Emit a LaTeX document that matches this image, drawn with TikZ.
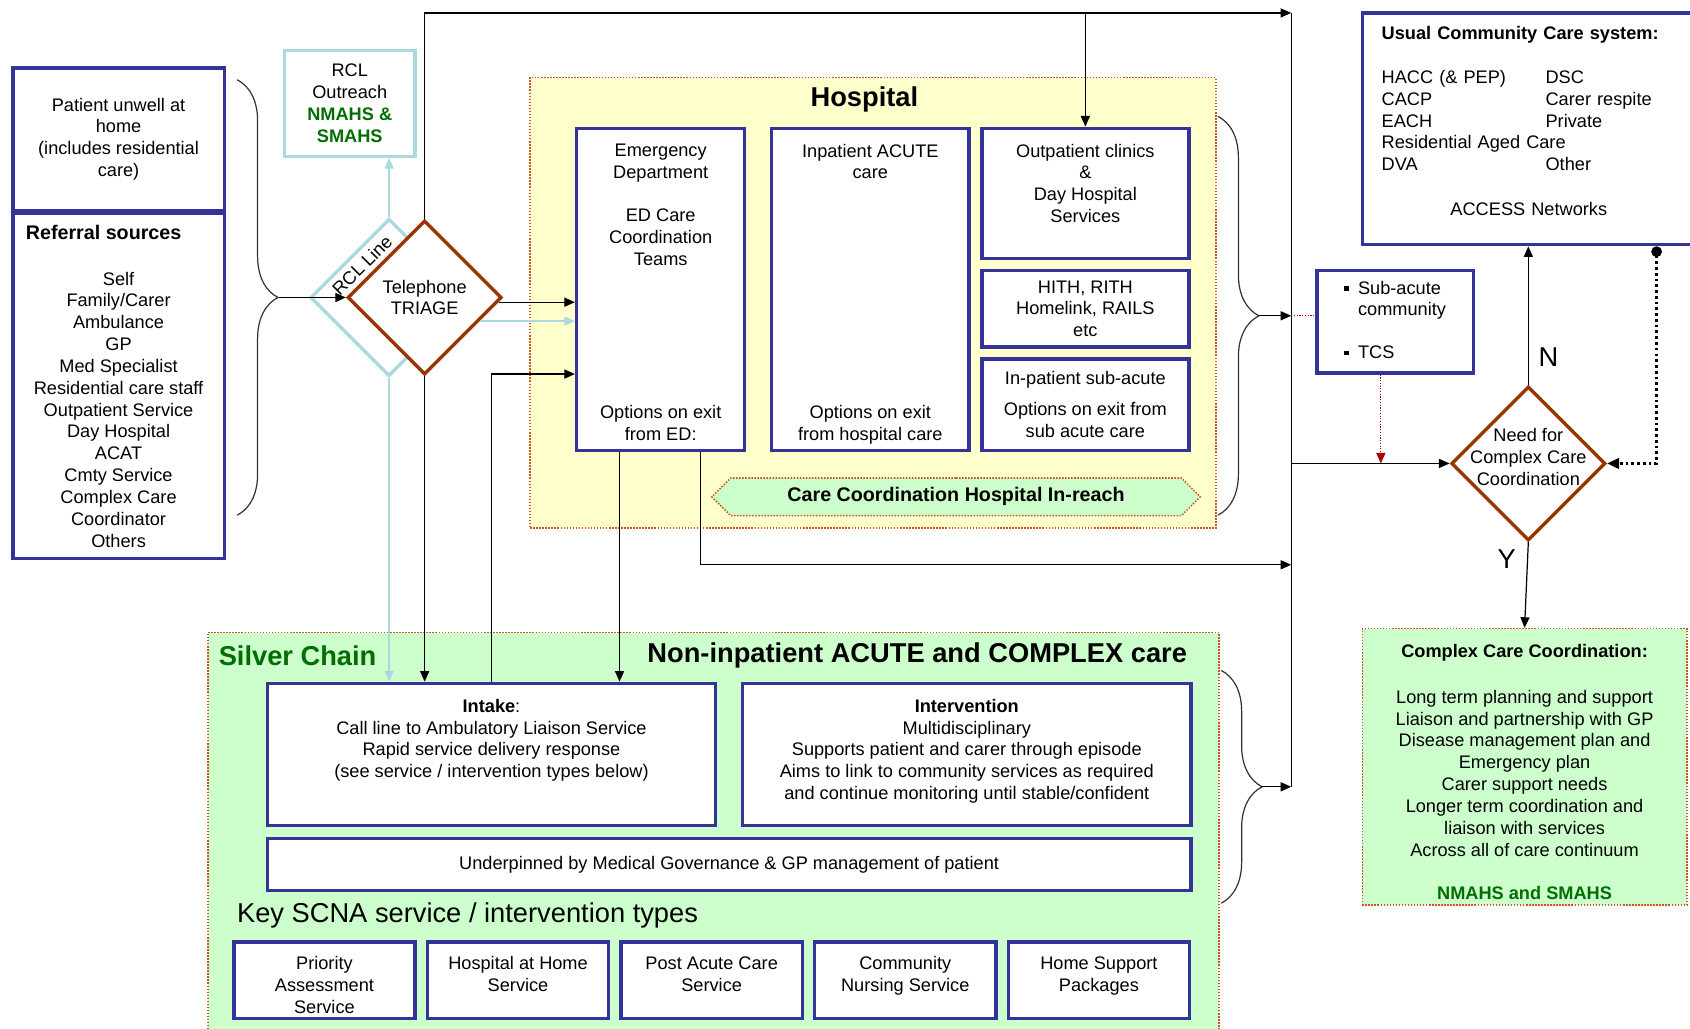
\documentclass[tikz,border=0pt]{standalone}
\usepackage{fontspec}
\setmainfont{Liberation Sans}
\usetikzlibrary{positioning,calc,arrows.meta,shapes.geometric,shapes.symbols,decorations.pathreplacing}

\definecolor{boxblue}{RGB}{51,51,153}
\definecolor{triagebrown}{RGB}{153,51,0}
\definecolor{rclblue}{RGB}{170,218,224}
\definecolor{hospyellow}{RGB}{255,255,204}
\definecolor{scgreen}{RGB}{204,255,204}
\definecolor{dotred}{RGB}{204,85,34}
\definecolor{darkred}{RGB}{170,0,0}
\definecolor{textgreen}{RGB}{0,110,0}

\newcommand{\sqbul}{\rule[2pt]{3pt}{3pt}}

\tikzstyle{bluebox} = [rectangle, draw=boxblue, line width=2.2pt, fill=white, align=center]
\tikzstyle{region} = [rectangle, draw=dotred, densely dotted, line width=1pt]
\tikzstyle{decision} = [diamond, draw=triagebrown, line width=2.2pt, fill=white, inner sep=0pt,
minimum width=3.575cm, minimum height=3.575cm, align=center]
\tikzstyle{boxtext} = [align=center, inner sep=2pt]
\tikzstyle{bigbox} = [bluebox, minimum width=10.4cm, minimum height=3.3cm]
\tikzstyle{svc} = [bluebox, minimum width=4.2cm, minimum height=1.775cm]
\tikzstyle{bighead} = [font=\fontsize{18}{21}\selectfont\bfseries]
\tikzstyle{arrow} = [thick, -{Triangle[length=7pt,width=6pt]}]
\tikzstyle{lbarrow} = [thick, rclblue, -{Triangle[length=7pt,width=6pt]}]
\tikzstyle{link} = [thick]
\tikzstyle{curly} = [thick, black!80, decorate, decoration={brace, amplitude=0.95cm}]
\tikzstyle{reddot} = [thick, darkred, densely dotted]

\begin{document}
\begin{tikzpicture}[x=0.025cm, y=-0.025cm, node distance=4.49cm, font=\fontsize{12}{14.4}\selectfont]
\useasboundingbox (0,0) rectangle (1568,954);

% regions
\node (hospital) [region, fill=hospyellow, minimum width=15.9cm, minimum height=10.45cm] at (810,281) {};
\node (silver) [region, fill=scgreen, minimum width=23.45cm, minimum height=9.375cm] at (662,774.5) {};
\node (hosptitle) [bighead] at (802,92) {Hospital};
\node (sctitle) [bighead, text=textgreen, anchor=west] at (198,608) {Silver Chain};
\node (nictitle) [bighead] at (851,608) {Non-inpatient ACUTE and COMPLEX care};

% referral side
\node (home) [bluebox, minimum width=4.9cm, minimum height=3.3cm] at (110,129) {Patient unwell at\\home\\(includes residential\\care)};
\node (refs) [bluebox, minimum width=4.9cm, minimum height=8cm, inner ysep=2pt, below=0pt of home] {\makebox[4.3cm][l]{\fontsize{13}{15}\selectfont\bfseries Referral sources}\\[16pt]
Self\\Family/Carer\\Ambulance\\GP\\Med Specialist\\Residential care staff\\Outpatient Service\\Day Hospital\\ACAT\\Cmty Service\\Complex Care\\Coordinator\\Others};
\node (rclbox) [bluebox, draw=rclblue, minimum width=3.025cm, minimum height=2.45cm] at (324.5,96) {RCL\\Outreach\\\textcolor{textgreen}{\textbf{NMAHS \&}}\\\textcolor{textgreen}{\textbf{SMAHS}}};
\node (rcl) [decision, draw=rclblue, minimum width=3.65cm, minimum height=3.65cm] at (361,276) {};
\node (rcllabel) [rotate=45] at (336,246) {RCL Line};
\node (triage) [decision] at (394,276) {Telephone\\TRIAGE};

% hospital
\node (ed) [bluebox, minimum width=3.9cm, minimum height=7.475cm] at (613,268.5) {};
\node (edtop) [boxtext, below=0.325cm of ed.north] {Emergency\\Department\\[14.4pt]ED Care\\Coordination\\Teams};
\node (edbot) [boxtext, above=0.2cm of ed.south] {Options on exit\\from ED:};
\node (inpatient) [bluebox, minimum width=4.575cm, minimum height=7.475cm] at (807.5,268.5) {};
\node (inptop) [boxtext, below=0.325cm of inpatient.north] {Inpatient ACUTE\\care};
\node (inpbot) [boxtext, above=0.1cm of inpatient.south] {Options on exit\\from hospital care};
\node (outpatient) [bluebox, minimum width=4.8cm, minimum height=3.025cm] at (1007,179.5) {};
\node (outptext) [boxtext, below=0.325cm of outpatient.north] {Outpatient clinics\\\&\\Day Hospital\\Services};
\node (hith) [bluebox, minimum width=4.8cm, minimum height=1.775cm] at (1007,286.5) {HITH, RITH\\Homelink, RAILS\\etc};
\node (ipsub) [bluebox, minimum width=4.8cm, minimum height=2.125cm] at (1007,375.5) {In-patient sub-acute\\[6pt]Options on exit from\\sub acute care};
\node (inreach) [signal, signal to=west and east, draw=dotred, densely dotted, line width=1pt, fill=scgreen,
minimum width=11.325cm, minimum height=0.875cm, font=\fontsize{13}{15}\selectfont\bfseries] at (887,461) {Care Coordination Hospital In-reach};

% community side
\node (usual) [bluebox, minimum width=7.775cm, minimum height=5.375cm, text width=6.875cm, align=left, inner xsep=0.45cm] at (1419.5,119.5) {\begin{tabular}{@{}p{3.8cm}@{}l@{}}
\multicolumn{2}{@{}l@{}}{\textbf{Usual Community Care system:}}\\[14.8pt]
HACC (\& PEP) & DSC\\
CACP & Carer respite\\
EACH & Private\\
\multicolumn{2}{@{}l@{}}{Residential Aged Care}\\
DVA & Other\\[14.8pt]
\multicolumn{2}{c}{\hspace*{0.4cm}ACCESS Networks}\\[8pt]
\end{tabular}};
\node (subcomm) [bluebox, minimum width=3.625cm, minimum height=2.375cm] at (1294.5,298.5) {\begin{tabular}{@{}l@{\hspace{6pt}}l@{}}
\sqbul & Sub-acute\\
 & community\\[13.5pt]
\sqbul & TCS
\end{tabular}};
\node (need) [decision, label={[align=center, yshift=0.15cm]center:{Need for\\Complex Care\\Coordination}}] at (1418,430) {};
\node (complex) [region, fill=scgreen, minimum width=7.525cm, minimum height=6.325cm, align=center] at (1414.5,711.5) {\rule{0pt}{16pt}\textbf{Complex Care Coordination:}\\[15.5pt]
Long term planning and support\\Liaison and partnership with GP\\Disease management plan and\\Emergency plan\\Carer support needs\\Longer term coordination and\\liaison with services\\Across all of care continuum\\[14.5pt]
\textcolor{textgreen}{\textbf{NMAHS and SMAHS}}};

% silver chain
\node (intake) [bigbox] at (456,700) {};
\node (intaketext) [boxtext, below=0.325cm of intake.north] {\textbf{Intake}:\\Call line to Ambulatory Liaison Service\\Rapid service delivery response\\(see service / intervention types below)};
\node (intervention) [bigbox] at (897,700) {};
\node (intervtext) [boxtext, below=0.325cm of intervention.north] {\textbf{Intervention}\\Multidisciplinary\\Supports patient and carer through episode\\Aims to link to community services as required\\and continue monitoring until stable/confident};
\node (underpin) [bluebox, minimum width=21.425cm, minimum height=1.2cm] at (676.5,802) {Underpinned by Medical Governance \& GP management of patient};
\node (keytitle) [anchor=west, font=\fontsize{18}{21}\selectfont] at (215,849) {Key SCNA service / intervention types};
\node (pas) [svc] at (301,909.5) {};
\node (hah) [svc, right of=pas] {};
\node (pac) [svc, right of=hah] {};
\node (cns) [svc, right of=pac] {};
\node (hsp) [svc, right of=cns] {};
\node (pastext) [boxtext, below=0.3cm of pas.north] {Priority\\Assessment\\Service};
\node (hahtext) [boxtext, below=0.3cm of hah.north] {Hospital at Home\\Service};
\node (pactext) [boxtext, below=0.3cm of pac.north] {Post Acute Care\\Service};
\node (cnstext) [boxtext, below=0.3cm of cns.north] {Community\\Nursing Service};
\node (hsptext) [boxtext, below=0.3cm of hsp.north] {Home Support\\Packages};

% braces and the collecting line
\draw [curly] (220,74) -- (220,478);
\draw [curly] (1130,108) -- (1130,478);
\draw [curly] (1133,622) -- (1133,838);
\coordinate (lbtip) at (259,276);
\coordinate (hbtip) at (1168,293);
\coordinate (sbtip) at (1170,730);
\coordinate (vtop) at (1198,12);
\coordinate (vbot) at (1198,730);
\coordinate (edexit) at (1198,524);
\draw [link] (vtop) -- (vbot);

% connectors
\draw [arrow] (lbtip) -- (triage.west);
\draw [arrow] (triage.north) |- (vtop);
\draw [arrow] (outpatient.north |- vtop) -- (outpatient.north);
\draw [lbarrow] (rcl.north) -- (rcl.north |- rclbox.south);
\draw [lbarrow] (rcl.south) -- (rcl.south |- intake.north);
\draw [arrow] (triage.south) -- (triage.south |- intake.north);
\coordinate (tblack) at ($(triage.east)!0.06!(triage.south)$);
\draw [arrow] (tblack) -- (tblack -| ed.west);
\coordinate (tblue) at ($(triage.east)!0.3!(triage.south)$);
\draw [lbarrow] (tblue) -- (tblue -| ed.west);
\coordinate (edin) at ($(ed.north west)!0.76!(ed.south west)$);
\draw [arrow] (intake.north) |- (edin);
\coordinate (edout1) at ($(ed.south west)!0.26!(ed.south east)$);
\draw [arrow] (edout1) -- (edout1 |- intake.north);
\coordinate (edout2) at ($(ed.south west)!0.73!(ed.south east)$);
\draw [arrow] (edout2) |- (edexit);
\draw [arrow] (hbtip) -- (hbtip -| vtop);
\draw [arrow] (sbtip) -- (vbot);
\draw [reddot] (hbtip -| vtop) -- (hbtip -| subcomm.west);
\coordinate (subout) at ($(subcomm.south west)!0.41!(subcomm.south east)$);
\draw [reddot, -{Triangle[length=7pt,width=6pt]}] (subout) -- (subout |- need.west);
\draw [arrow] (need.west -| vtop) -- (need.west);
\draw [arrow] (need.north) -- node [pos=0.2, right=3pt, font=\fontsize{18}{21}\selectfont] {N} (need.north |- usual.south);
\draw [arrow] (need.south) -- node [pos=0.2, left=4pt, font=\fontsize{18}{21}\selectfont] {Y} (complex.north);
\coordinate (usualdot) at ($(usual.south west)!0.874!(usual.south east)$);
\draw [line width=1.8pt, dotted, {Circle[length=7pt]}-{Triangle[length=8pt,width=7pt]}] (usualdot) |- (need.east);

\end{tikzpicture}
\end{document}
